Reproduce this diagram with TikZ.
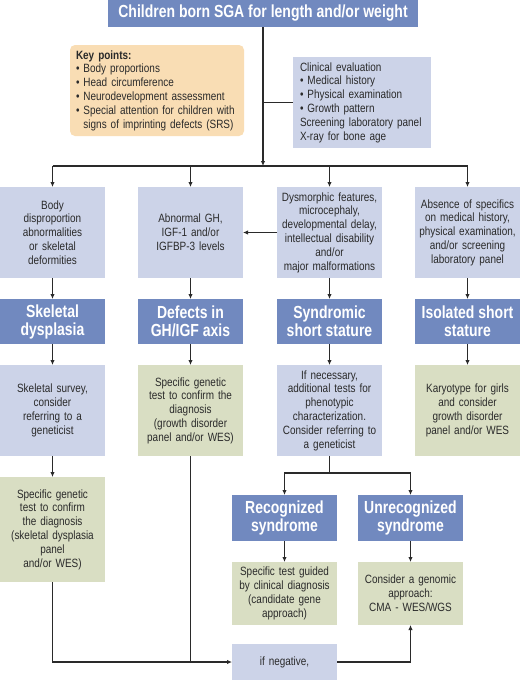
\documentclass[tikz,border=0pt]{standalone}
\usepackage{fontspec}
\setmainfont{Liberation Sans}[FakeStretch=0.83]
\newfontfamily\hdrfont{Liberation Sans}[FakeStretch=0.80]
\usetikzlibrary{arrows.meta}
\definecolor{hdr}{HTML}{7189BF}
\definecolor{lblue}{HTML}{CCD3E8}
\definecolor{lgreen}{HTML}{D9DEC3}
\definecolor{peach}{HTML}{F9DDB4}
\definecolor{txt}{HTML}{2A2A2A}
\tikzset{
  base/.style={inner sep=0pt, outer sep=0pt, text=txt, align=center,
    font=\fontsize{12}{13.8}\selectfont},
  bluebox/.style={base, fill=lblue, minimum width=105, text width=103},
  greenbox/.style={base, fill=lgreen, minimum width=105, text width=103},
  hdrbox/.style={base, fill=hdr, text=white, minimum width=105, minimum height=45,
    font=\hdrfont\fontsize{17.5}{18}\selectfont\bfseries},
  conn/.style={line width=1.1pt, draw=txt},
  arr/.style={conn, -{Latex[length=5pt,width=4.5pt]}},
}
\begin{document}
\begin{tikzpicture}[x=1pt,y=-1pt]
\useasboundingbox[fill=white] (0,0) rectangle (520,680);
% title
\node[base, fill=hdr, text=white, minimum width=310, minimum height=27,
  font=\hdrfont\fontsize{17.5}{18}\selectfont\bfseries] (title) at (263,13.5)
  {Children born SGA for length and/or weight};
% key points
\node[base, fill=peach, rounded corners=5pt, minimum width=174, minimum height=91,
  text width=162, align=left] (keys) at (157,90.5)
  {\textbf{Key points:}\\
   • Body proportions\\
   • Head circumference\\
   • Neurodevelopment assessment\\
   • Special attention for children with\\
   \phantom{• }signs of imprinting defects (SRS)};
% clinical evaluation
\node[base, fill=lblue, minimum width=138, minimum height=91, text width=124,
  align=left] (clin) at (362,102.5)
  {Clinical evaluation\\
   • Medical history\\
   • Physical examination\\
   • Growth pattern\\
   Screening laboratory panel\\
   X-ray for bone age};
% row 1
\node[bluebox, minimum height=91] (r1a) at (52.5,232.5)
  {Body\\disproportion\\abnormalities\\or skeletal\\deformities};
\node[bluebox, minimum height=91] (r1b) at (190.5,232.5)
  {Abnormal GH,\\IGF-1 and/or\\IGFBP-3 levels};
\node[bluebox, minimum height=91] (r1c) at (329.5,232.5)
  {Dysmorphic features,\\microcephaly,\\developmental delay,\\intellectual disability\\and/or\\major malformations};
\node[bluebox, minimum height=91] (r1d) at (467.5,232.5)
  {Absence of specifics\\on medical history,\\physical examination,\\and/or screening\\laboratory panel};
% row 2
\node[hdrbox] (r2a) at (52.5,321.5) {Skeletal\\dysplasia};
\node[hdrbox] (r2b) at (190.5,321.5) {Defects in\\GH/IGF axis};
\node[hdrbox] (r2c) at (329.5,321.5) {Syndromic\\short stature};
\node[hdrbox] (r2d) at (467.5,321.5) {Isolated short\\stature};
% row 3
\node[bluebox, minimum height=91] (r3a) at (52.5,410.5)
  {Skeletal survey,\\consider\\referring to a\\geneticist};
\node[greenbox, minimum height=91] (r3b) at (190.5,410.5)
  {Specific genetic\\test to confirm the\\diagnosis\\(growth disorder\\panel and/or WES)};
\node[bluebox, minimum height=91] (r3c) at (329.5,410.5)
  {If necessary,\\additional tests for\\phenotypic\\characterization.\\Consider referring to\\a geneticist};
\node[greenbox, minimum height=91] (r3d) at (467.5,410.5)
  {Karyotype for girls\\and consider\\growth disorder\\panel and/or WES};
% row 4 left
\node[greenbox, minimum height=105] (r4a) at (52.5,529.5)
  {Specific genetic\\test to confirm\\the diagnosis\\(skeletal dysplasia\\panel\\and/or WES)};
% syndromes
\node[hdrbox, minimum height=46] (rec) at (284.5,518) {Recognized\\syndrome};
\node[hdrbox, minimum height=46] (unrec) at (410.5,518) {Unrecognized\\syndrome};
\node[greenbox, minimum height=63] (spec) at (284.5,593.5)
  {Specific test guided\\by clinical diagnosis\\(candidate gene\\approach)};
\node[greenbox, minimum height=63] (cons) at (410.5,593.5)
  {Consider a genomic\\approach:\\CMA - WES/WGS};
\node[bluebox, minimum height=36] (neg) at (284.5,662) {if negative,};
% connectors
\coordinate (bus) at (263,166);
\coordinate (busl) at (52.5,166);
\coordinate (busr) at (467.5,166);
\draw[arr] (title.south) -- (bus);
\draw[conn] (clin.west) -- (clin.west -| title.south);
\draw[conn] (busl) -- (busr);
\foreach \n in {r1a,r1b,r1c,r1d} \draw[arr] (\n.north |- bus) -- (\n.north);
\draw[arr] (r1c.west) -- (r1b.east);
\foreach \a/\b in {r1a/r2a,r1b/r2b,r1c/r2c,r1d/r2d,r2a/r3a,r2b/r3b,r2c/r3c,r2d/r3d,r3a/r4a,rec/spec,unrec/cons}
  \draw[arr] (\a.south) -- (\b.north);
\coordinate (split) at (329.5,473);
\draw[conn] (r3c.south) -- (split);
\draw[arr] (split) -| (rec.north);
\draw[arr] (split) -| (unrec.north);
\draw[arr] (r4a.south) |- (neg.west);
\draw[conn] (r3b.south) -- (r3b.south |- neg.west);
\draw[arr] (neg.east) -| (cons.south);
\end{tikzpicture}
\end{document}
